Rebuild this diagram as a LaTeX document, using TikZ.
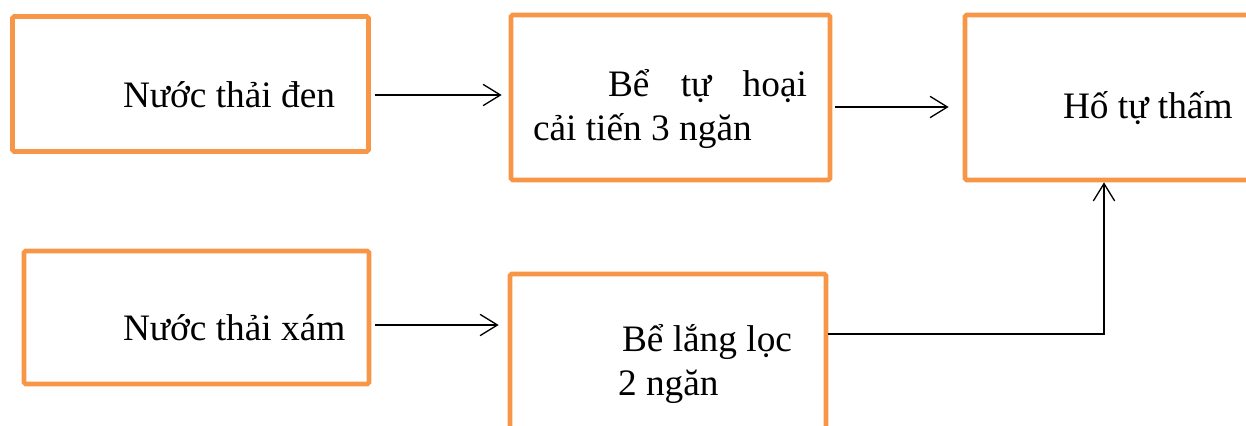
\documentclass[tikz,border=0pt]{standalone}
\usepackage{fontspec}
\setmainfont{Liberation Serif}
\usetikzlibrary{arrows.meta}
\definecolor{boxorange}{HTML}{F79646}
\tikzset{
  box/.style={draw=boxorange, line width=3.5pt, rounded corners=1.2pt, inner sep=0pt, fill=none},
  lbl/.style={inner sep=0pt, outer sep=0pt, anchor=base west, align=left, font=\fontsize{28}{33}\selectfont},
  arr/.style={draw=black, line width=1pt, -{Straight Barb[length=13pt,width=16pt,line width=1pt]}},
}
\begin{document}
\begin{tikzpicture}[x=0.75pt,y=-0.75pt]
\useasboundingbox (0,0) rectangle (1246,425);
\clip (0,0) rectangle (1246,425);
% boxes
\node[box, minimum width=267pt, minimum height=101.25pt] (b1) at (190.5,84) {};
\node[box, minimum width=239.25pt, minimum height=123.75pt] (b2) at (670.5,97.5) {};
\node[box, minimum width=221.25pt, minimum height=123.75pt] (b3) at (1112.5,97.5) {};
\node[box, minimum width=258.75pt, minimum height=99.75pt] (b4) at (196.5,317.5) {};
\node[box, minimum width=237pt, minimum height=124.5pt] (b5) at (668,357) {};
% texts
\node[lbl] (t1) at (123,107) {Nước thải đen};
\node[lbl] (t2) at (533,140) {\hspace*{56.25pt}\hbox to 149.25pt{Bể\hfill tự\hfill hoại}\\cải tiến 3 ngăn};
\node[lbl] (t3) at (1063,118) {Hố tự thấm};
\node[lbl] (t4) at (123,340) {Nước thải xám};
\node[lbl] (t5) at (618,395) {\hspace*{3pt}Bể lắng lọc\\2 ngăn};
% connectors
\coordinate (a1) at ([yshift=-8.25pt]b1.east);
\draw[arr, shorten <=3pt, shorten >=5.25pt] (a1) -- (a1 -| b2.west);
\coordinate (a2) at ([yshift=-7.125pt]b2.east);
\draw[arr, shorten <=2.25pt, shorten >=10.5pt] (a2) -- (a2 -| b3.west);
\coordinate (a3) at ([yshift=-5.625pt]b4.east);
\draw[arr, shorten <=3pt, shorten >=6.75pt] (a3) -- (a3 -| b5.west);
\coordinate (a4) at ([yshift=17.25pt]b5.east);
\draw[arr] (a4) -| ([xshift=-6.375pt]b3.south);
\end{tikzpicture}
\end{document}
